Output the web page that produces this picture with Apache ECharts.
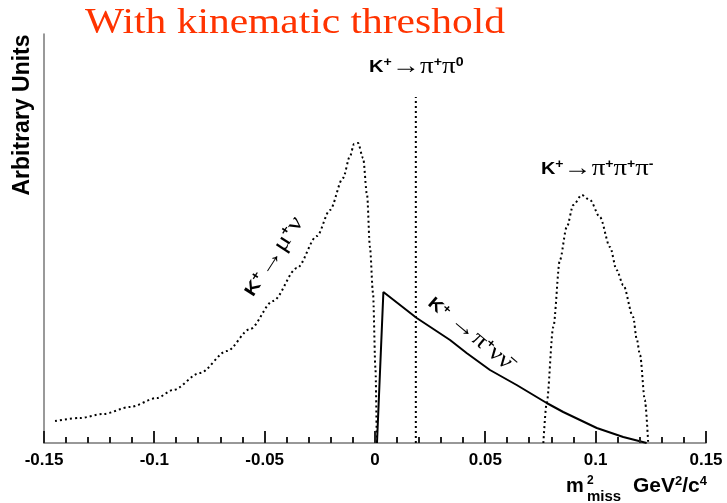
<!DOCTYPE html>
<html>
<head>
<meta charset="utf-8">
<script src="https://cdn.jsdelivr.net/npm/echarts@6/dist/echarts.min.js"></script>
<style>
html,body{margin:0;padding:0;background:#fff;}
#c{width:727px;height:503px;}
</style>
</head>
<body>
<div id="c"></div>
<script>
// ---- data (x = m2_miss in GeV^2/c^4, y = arbitrary units) ----
const xMin = -0.15;
const xMax = 0.15;
const xStep = 0.05;
const minorPerMajor = 5;
const yMax = 409;
const tickLabels = ["-0.15", "-0.1", "-0.05", "0", "0.05", "0.1", "0.15"];

const muNuX = [-0.145, -0.1337, -0.1232, -0.111, -0.0988, -0.0915, -0.0793, -0.0671, -0.0566, -0.0462, -0.0353, -0.0263, -0.0204, -0.0145, -0.0113, -0.0095, -0.0077, -0.0054, -0.0036, -0.0023, -0.0009, 0.0002, 0.0008];
const muNuY = [22, 25, 29, 36, 45, 53, 70, 92, 114, 142, 175, 207, 233, 265, 287, 299, 300, 285, 248, 196, 150, 75, 0];

const piNuNuX = [0.0009, 0.0038, 0.0189, 0.034, 0.0415, 0.0521, 0.0642, 0.0778, 0.0853, 0.1005, 0.1125, 0.1231];
const piNuNuY = [0, 151, 125, 103, 90, 73, 58, 40, 31, 15, 6, 0];

const pipipiX = [0.0763, 0.0778, 0.0808, 0.0838, 0.0869, 0.0899, 0.0937, 0.0974, 0.1019, 0.1065, 0.1095, 0.1125, 0.117, 0.1186, 0.1201, 0.1223, 0.1238];
const pipipiY = [0, 40, 116, 183, 216, 238, 248, 243, 226, 196, 173, 158, 126, 104, 88, 43, 0];

const pi0X = [0.0185, 0.0185];
const pi0Y = [0, 346];

function pairs(xs, ys) { return xs.map((x, i) => [x, ys[i]]); }

// axis tick values (major every xStep, minor every xStep/5)
const tickVals = [];
const nMinor = Math.round((xMax - xMin) / xStep) * minorPerMajor;
for (let i = 0; i <= nMinor; i++) {
  tickVals.push({v: xMin + i * xStep / minorPerMajor, major: i % minorPerMajor === 0});
}

const chart = echarts.init(document.getElementById('c'), null, {renderer: 'canvas'});

const sansB = {fontFamily: 'Liberation Sans', fontWeight: 'bold'};
const richAnn = {
  k: Object.assign({fontSize: 17}, sansB),
  s: Object.assign({fontSize: 12, padding: [0, 0, 9, 0]}, sansB),
  a: {fontFamily: 'Liberation Serif', fontSize: 24},
  p: {fontFamily: 'Liberation Serif', fontSize: 23}
};
const dotted = [2, 3];

const baseGraphic = [
  {type: 'text', x: 85, y: 24, scaleX: 1.185,
   style: {text: 'With kinematic threshold', fontFamily: 'Liberation Serif', fontSize: 35, fill: '#ff3300', align: 'left', verticalAlign: 'middle'}},
  {type: 'text', x: 23, y: 115, rotation: Math.PI / 2,
   style: {text: 'Arbitrary Units', fontFamily: 'Liberation Sans', fontWeight: 'bold', fontSize: 23, fill: '#000', align: 'center', verticalAlign: 'middle'}},
  {type: 'text', x: 369, y: 67, scaleX: 1.18,
   style: {text: '{k|K}{s|+}{a|→}{p|π}{s|+}{p|π}{s|0}', rich: richAnn, fill: '#000', align: 'left', verticalAlign: 'middle'}},
  {type: 'text', x: 541, y: 169, scaleX: 1.17,
   style: {text: '{k|K}{s|+}{a|→}{p|π}{s|+}{p|π}{s|+}{p|π}{s|-}', rich: richAnn, fill: '#000', align: 'left', verticalAlign: 'middle'}},
  {type: 'text', x: 249, y: 295, rotation: 57 * Math.PI / 180, scaleX: 1.25,
   style: {text: '{k|K}{s|+}{a|→}{p|μ}{s|+}{p|ν}', rich: richAnn, fill: '#000', align: 'left', verticalAlign: 'middle'}},
  {type: 'text', x: 430, y: 301, rotation: -40 * Math.PI / 180, scaleX: 1.15,
   style: {text: '{k|K}{s|+}', rich: richAnn, fill: '#000', align: 'left', verticalAlign: 'middle'}},
  {type: 'text', x: 453, y: 318, rotation: -40 * Math.PI / 180, scaleX: 1.16,
   style: {text: '{a|→}{p|π}{s|+}{p|νν\u0304}', rich: richAnn, fill: '#000', align: 'left', verticalAlign: 'middle'}},
  {type: 'text', x: 566, y: 486,
   style: {text: 'm', fontFamily: 'Liberation Sans', fontWeight: 'bold', fontSize: 20, fill: '#000', align: 'left', verticalAlign: 'middle'}},
  {type: 'text', x: 587, y: 481,
   style: {text: '2', fontFamily: 'Liberation Sans', fontWeight: 'bold', fontSize: 12, fill: '#000', align: 'left', verticalAlign: 'middle'}},
  {type: 'text', x: 587, y: 497,
   style: {text: 'miss', fontFamily: 'Liberation Sans', fontWeight: 'bold', fontSize: 15, fill: '#000', align: 'left', verticalAlign: 'middle'}},
  {type: 'text', x: 633, y: 486,
   style: {text: '{g|GeV}{s|2}{g|/c}{s|4}', fill: '#000', align: 'left', verticalAlign: 'middle',
           rich: {g: Object.assign({fontSize: 21}, sansB), s: Object.assign({fontSize: 13, padding: [0, 0, 10, 0]}, sansB)}}}
];

const option = {
  animation: false,
  backgroundColor: '#ffffff',
  grid: {left: 44, right: 21, top: 34, bottom: 60, containLabel: false},
  xAxis: {
    type: 'value', min: xMin, max: xMax, interval: xStep,
    axisLine: {show: true, onZero: false, lineStyle: {color: '#777', width: 1.5}},
    axisTick: {show: false},
    minorTick: {show: false},
    splitLine: {show: false},
    axisLabel: {
      margin: 9, color: '#000', fontFamily: 'Liberation Sans', fontWeight: 'bold', fontSize: 17,
      formatter: v => tickLabels[Math.round((v - xMin) / xStep)]
    }
  },
  yAxis: {
    type: 'value', min: 0, max: yMax,
    axisLine: {show: true, onZero: false, lineStyle: {color: '#777', width: 1.5}},
    axisTick: {show: false}, axisLabel: {show: false}, splitLine: {show: false}
  },
  series: [
    {type: 'line', data: pairs(muNuX, muNuY), showSymbol: false, smooth: 0.3, smoothMonotone: 'x',
     lineStyle: {color: '#000', width: 2, type: dotted}},
    {type: 'line', data: pairs(piNuNuX, piNuNuY), showSymbol: false,
     lineStyle: {color: '#000', width: 2, type: 'solid'}},
    {type: 'line', data: pairs(pipipiX, pipipiY), showSymbol: false, smooth: 0.3, smoothMonotone: 'x',
     lineStyle: {color: '#000', width: 2, type: dotted}},
    {type: 'line', data: pairs(pi0X, pi0Y), showSymbol: false,
     lineStyle: {color: '#000', width: 2, type: dotted}}
  ],
  graphic: baseGraphic
};
chart.setOption(option);

// axis ticks (pointing inward) placed through the chart's own x/y scales
const tickGraphic = tickVals.map(t => {
  const p = chart.convertToPixel({gridIndex: 0}, [t.v, 0]);
  const x = Math.round(p[0]);
  const len = t.major ? 12 : 6;
  return {type: 'line', z: 10, silent: true,
          shape: {x1: x, y1: p[1], x2: x, y2: p[1] - len},
          style: {stroke: '#222', lineWidth: 2}};
});
chart.setOption({graphic: baseGraphic.concat(tickGraphic)});
</script>
</body>
</html>
